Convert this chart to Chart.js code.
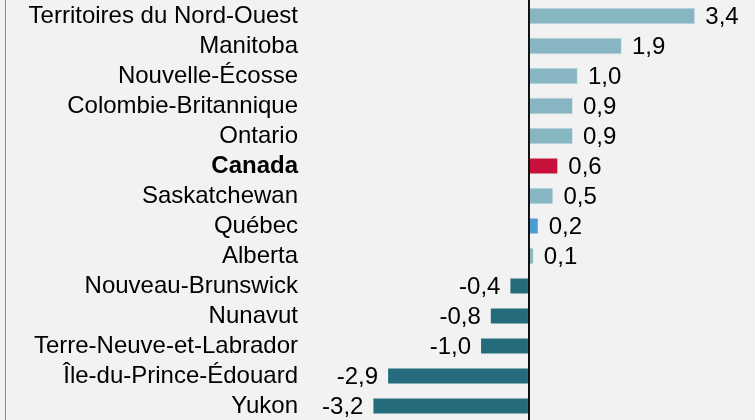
<!DOCTYPE html>
<html>
<head>
<meta charset="utf-8">
<script src="https://cdn.jsdelivr.net/npm/chart.js@4/dist/chart.umd.min.js"></script>
<style>
  html, body { margin: 0; padding: 0; background: #f2f2f2; overflow: hidden; }
  #wrap { position: relative; width: 755px; height: 421px; }
  #edge { position: absolute; left: 5px; top: 0; width: 1px; height: 420px; background: #8c8c8c; }
</style>
</head>
<body>
<div id="wrap">
  <div id="edge"></div>
  <canvas id="chart"></canvas>
</div>
<script>
const provinces = [
  'Territoires du Nord-Ouest', 'Manitoba', 'Nouvelle-Écosse', 'Colombie-Britannique',
  'Ontario', 'Canada', 'Saskatchewan', 'Québec', 'Alberta', 'Nouveau-Brunswick',
  'Nunavut', 'Terre-Neuve-et-Labrador', 'Île-du-Prince-Édouard', 'Yukon'
];
const changes = [3.4, 1.9, 1.0, 0.9, 0.9, 0.6, 0.5, 0.2, 0.1, -0.4, -0.8, -1.0, -2.9, -3.2];

const FONT = "'Liberation Sans', Arial, sans-serif";

function barColor(name, v) {
  if (name === 'Canada') return '#c8103c';
  if (name === 'Québec') return '#4b9cd3';
  return v < 0 ? '#246c7c' : '#87b6c2';
}

function fmt(v) {
  return v.toFixed(1).replace('.', ',');
}

// zero line + value labels
const extras = {
  id: 'extras',
  afterDatasetsDraw(chart) {
    const { ctx } = chart;
    const x0 = Math.round(chart.scales.x.getPixelForValue(0));
    ctx.save();
    ctx.strokeStyle = '#111';
    ctx.lineWidth = 2;
    ctx.beginPath();
    ctx.moveTo(x0, 0);
    ctx.lineTo(x0, chart.height);
    ctx.stroke();

    ctx.font = `24px ${FONT}`;
    ctx.fillStyle = '#000';
    ctx.textBaseline = 'middle';
    chart.getDatasetMeta(0).data.forEach((bar, i) => {
      const v = changes[i];
      if (v >= 0) {
        ctx.textAlign = 'left';
        ctx.fillText(fmt(v), bar.x + 10, bar.y + 1);
      } else {
        ctx.textAlign = 'right';
        ctx.fillText(fmt(v), bar.x - 9, bar.y + 1);
      }
    });
    ctx.restore();
  }
};

new Chart(document.getElementById('chart'), {
  type: 'bar',
  data: {
    labels: provinces,
    datasets: [{
      data: changes,
      backgroundColor: provinces.map((p, i) => barColor(p, changes[i])),
      borderColor: provinces.map((p, i) => (changes[i] > 0 && p !== 'Canada' && p !== 'Québec') ? '#d3e5ea' : 'rgba(0,0,0,0)'),
      borderWidth: 1,
      borderSkipped: false,
      barPercentage: 0.57,
      categoryPercentage: 1
    }]
  },
  options: {
    indexAxis: 'y',
    responsive: true,
    maintainAspectRatio: false,
    animation: false,
    layout: { padding: { top: 1, bottom: 0, left: 0, right: 0 } },
    plugins: { legend: { display: false }, tooltip: { enabled: false } },
    scales: {
      x: {
        display: false,
        min: -4.68,
        max: 4.62
      },
      y: {
        afterFit: (scale) => {
          scale.width = 300;
          scale.paddingTop = 0;
          scale.paddingBottom = 0;
        },
        grid: { display: false, drawTicks: false },
        border: { display: false },
        ticks: {
          autoSkip: false,
          padding: 2,
          color: '#000',
          font: (c) => ({
            family: FONT,
            size: 24,
            weight: (c.tick && c.tick.label === 'Canada') ? 'bold' : 'normal'
          })
        }
      }
    }
  },
  plugins: [extras]
});
</script>
</body>
</html>
